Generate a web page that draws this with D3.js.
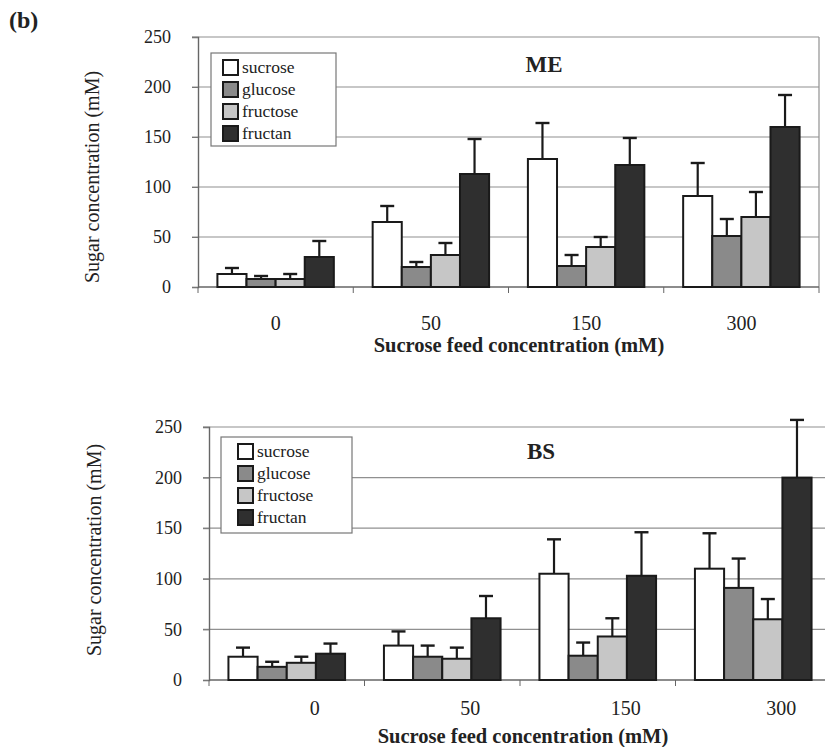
<!DOCTYPE html>
<html>
<head>
	<meta charset="utf-8">
	<title>Sugar concentration</title>
	<script src="https://d3js.org/d3.v7.min.js"></script>
	<style>
		body { margin: 0; background: #fff; }
		svg { display: block; }
		text { font-family: "Liberation Serif", "DejaVu Serif", serif; fill: #222; }
	</style>
</head>
<body>
	<div id="chart"></div>

	<script>
		// categories and series
		var feeds = ["0", "50", "150", "300"];
		var sugars = ["sucrose", "glucose", "fructose", "fructan"];
		var yTicks = [0, 50, 100, 150, 200, 250];

		// ME panel: mean values and top of error bar, one row per feed level
		var meMean = [
			[13, 8, 8, 30],
			[65, 20, 32, 113],
			[128, 21, 40, 122],
			[91, 51, 70, 160]
		];
		var meErr = [
			[19, 11, 13, 46],
			[81, 25, 44, 148],
			[164, 32, 50, 149],
			[124, 68, 95, 192]
		];

		// BS panel
		var bsMean = [
			[23, 13, 17, 26],
			[34, 23, 21, 61],
			[105, 24, 43, 103],
			[110, 91, 60, 200]
		];
		var bsErr = [
			[32, 18, 23, 36],
			[48, 34, 32, 83],
			[139, 37, 61, 146],
			[145, 120, 80, 257]
		];

		var fills = ["#ffffff", "#8a8a8a", "#c6c6c6", "#2f2f2f"];

		var svg = d3.select("#chart").append("svg")
			.attr("width", 825)
			.attr("height", 747);

		svg.append("text")
			.attr("x", 9).attr("y", 28)
			.attr("font-size", 24).attr("font-weight", "bold")
			.text("(b)");

		function drawPanel(opt) {
			var x = d3.scaleBand()
				.domain(feeds)
				.range([opt.left, opt.right])
				.paddingInner(0.25)
				.paddingOuter(0.125);

			var xs = d3.scaleBand()
				.domain(sugars)
				.range([0, x.bandwidth()]);

			var y = d3.scaleLinear()
				.domain([0, 250])
				.range([opt.bottom, opt.top]);

			var g = svg.append("g");

			// gridlines
			g.selectAll(".grid")
				.data(yTicks.slice(1))
				.enter().append("line")
				.attr("x1", opt.left - 6)
				.attr("x2", opt.right)
				.attr("y1", function (d) { return y(d); })
				.attr("y2", function (d) { return y(d); })
				.attr("stroke", "#909090")
				.attr("stroke-width", 1.2);

			// right border
			g.append("line")
				.attr("x1", opt.right).attr("x2", opt.right)
				.attr("y1", y(250)).attr("y2", y(0))
				.attr("stroke", "#909090").attr("stroke-width", 1.2);

			// y axis
			var yAxis = g.append("g")
				.attr("transform", "translate(" + opt.left + ",0)")
				.call(d3.axisLeft(y).tickValues(yTicks).tickSize(6).tickPadding(opt.tickPad));
			yAxis.select(".domain").attr("stroke", "#666").attr("stroke-width", 1.4);
			yAxis.selectAll(".tick line").attr("stroke", "#777");
			yAxis.selectAll("text")
				.attr("font-family", "Liberation Serif, serif")
				.attr("font-size", 18).attr("fill", "#222");

			// x axis, ticks sit between categories
			var xAxis = g.append("g")
				.attr("transform", "translate(0," + opt.bottom + ")");
			xAxis.append("line")
				.attr("x1", opt.left).attr("x2", opt.right)
				.attr("stroke", "#666").attr("stroke-width", 1.4);
			var step = x.step();
			var bounds = feeds.map(function (d) { return x(d) - step * x.paddingInner() / 2; });
			bounds.push(opt.right);
			xAxis.selectAll(".xt")
				.data(bounds)
				.enter().append("line")
				.attr("x1", function (d) { return d; })
				.attr("x2", function (d) { return d; })
				.attr("y1", 0).attr("y2", 6)
				.attr("stroke", "#666");
			xAxis.selectAll(".xl")
				.data(feeds)
				.enter().append("text")
				.attr("x", function (d) { return x(d) + x.bandwidth() / 2 + opt.labelDx; })
				.attr("y", opt.labelDy)
				.attr("text-anchor", "middle")
				.attr("font-size", 20)
				.text(function (d) { return d; });

			svg.append("text")
				.attr("x", opt.titleX)
				.attr("y", opt.bottom + opt.titleDy)
				.attr("text-anchor", "middle")
				.attr("font-size", 20.5).attr("font-weight", "bold")
				.text("Sucrose feed concentration (mM)");

			svg.append("text")
				.attr("transform", "translate(" + opt.yLabelX + "," + opt.yLabelY + ") rotate(-90)")
				.attr("text-anchor", "middle")
				.attr("font-size", 20)
				.attr("fill", "#333")
				.text("Sugar concentration (mM)");

			// bars
			var rows = [];
			feeds.forEach(function (f, i) {
				sugars.forEach(function (s, j) {
					rows.push({ feed: f, sugar: s, k: j, v: opt.mean[i][j], e: opt.err[i][j] });
				});
			});

			var bw = xs.bandwidth();
			var bars = g.selectAll(".bar")
				.data(rows)
				.enter().append("g");

			bars.append("line")
				.attr("x1", function (d) { return x(d.feed) + xs(d.sugar) + bw / 2; })
				.attr("x2", function (d) { return x(d.feed) + xs(d.sugar) + bw / 2; })
				.attr("y1", function (d) { return y(d.v); })
				.attr("y2", function (d) { return y(d.e); })
				.attr("stroke", "#1a1a1a").attr("stroke-width", 2.2);
			bars.append("line")
				.attr("x1", function (d) { return x(d.feed) + xs(d.sugar) + bw / 2 - 7; })
				.attr("x2", function (d) { return x(d.feed) + xs(d.sugar) + bw / 2 + 7; })
				.attr("y1", function (d) { return y(d.e); })
				.attr("y2", function (d) { return y(d.e); })
				.attr("stroke", "#1a1a1a").attr("stroke-width", 2.4);

			bars.append("rect")
				.attr("x", function (d) { return x(d.feed) + xs(d.sugar); })
				.attr("y", function (d) { return y(d.v); })
				.attr("width", bw)
				.attr("height", function (d) { return y(0) - y(d.v); })
				.attr("fill", function (d) { return fills[d.k]; })
				.attr("stroke", "#1a1a1a")
				.attr("stroke-width", 2);

			// panel title
			svg.append("text")
				.attr("x", opt.nameX).attr("y", opt.nameY)
				.attr("text-anchor", "middle")
				.attr("font-size", 23).attr("font-weight", "bold")
				.text(opt.name);

			// legend
			var lg = svg.append("g")
				.attr("transform", "translate(" + opt.legX + "," + opt.legY + ")");
			lg.append("rect")
				.attr("width", opt.legW).attr("height", opt.legH)
				.attr("fill", "#fff").attr("stroke", "#777").attr("stroke-width", 1.2);
			var item = lg.selectAll(".item")
				.data(sugars)
				.enter().append("g")
				.attr("transform", function (d, i) { return "translate(" + opt.legPad + "," + (7 + i * 22) + ")"; });
			item.append("rect")
				.attr("width", 15).attr("height", 15)
				.attr("fill", function (d, i) { return fills[i]; })
				.attr("stroke", "#1a1a1a").attr("stroke-width", 2);
			item.append("text")
				.attr("x", 19).attr("y", 13)
				.attr("font-size", 17.5)
				.text(function (d) { return d; });
		}

		drawPanel({
			name: "ME", mean: meMean, err: meErr,
			left: 198, right: 819, top: 37, bottom: 287,
			tickPad: 21,
			labelDx: 0, labelDy: 43, titleX: 519, titleDy: 65,
			yLabelX: 99, yLabelY: 177,
			nameX: 544, nameY: 72,
			legX: 211, legY: 53, legW: 125, legH: 93, legPad: 12
		});

		drawPanel({
			name: "BS", mean: bsMean, err: bsErr,
			left: 209, right: 831, top: 427, bottom: 680,
			tickPad: 21,
			labelDx: 28, labelDy: 35, titleX: 523, titleDy: 63,
			yLabelX: 101, yLabelY: 550,
			nameX: 541, nameY: 459,
			legX: 221, legY: 437, legW: 131, legH: 96, legPad: 17
		});
	</script>
</body>
</html>
